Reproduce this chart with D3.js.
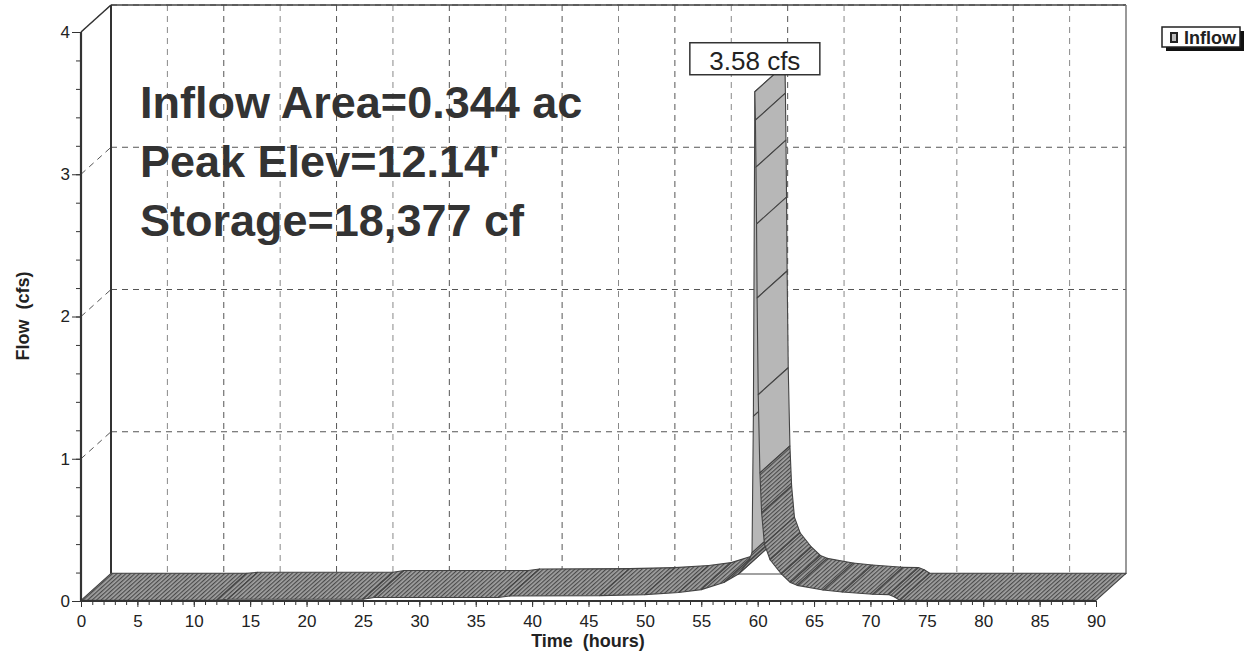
<!DOCTYPE html>
<html>
<head>
<meta charset="utf-8">
<script src="https://cdn.jsdelivr.net/npm/d3@7"></script>
<style>
  body { margin: 0; background: #fff; }
  svg { font-family: "Liberation Sans", Arial, sans-serif; }
</style>
</head>
<body>
<svg id="chart" width="1254" height="655"></svg>
<script>
// inflow hydrograph (hours, cfs)
const hours = [0, 12, 13, 25, 26, 37, 38, 46, 50, 53, 55, 57, 58.3, 59.2, 59.5, 59.62, 59.75,
  59.8, 59.85, 59.9, 59.95, 60.05, 60.2, 60.35, 60.6, 61.1, 62.1, 62.9, 63.5, 65.8, 67.5,
  70.2, 71.6, 72.1, 72.6, 90];
const inflow = [0.005, 0.005, 0.012, 0.012, 0.025, 0.025, 0.035, 0.038, 0.045, 0.06, 0.08, 0.13,
  0.19, 0.28, 0.34, 1.3, 3.58, 3.38, 3.05, 2.65, 2.13, 1.45, 0.9, 0.62, 0.4, 0.29, 0.19, 0.13,
  0.11, 0.077, 0.063, 0.047, 0.045, 0.03, 0.005, 0.005];

const xTicks = d3.range(0, 91, 5);
const yTicks = [0, 1, 2, 3, 4];
const infoLines = ["Inflow Area=0.344 ac", "Peak Elev=12.14'", "Storage=18,377 cf"];
const peakLabel = "3.58 cfs";
const legendLabel = "Inflow";

const svg = d3.select("#chart");
const dx = 30, dy = -27;     // 3d depth offset
const spikeCut = 1.0;        // above this the ribbon is drawn light, without dense hatch

const x = d3.scaleLinear().domain([0, 90]).range([81, 1096]);
const y = d3.scaleLinear().domain([0, 4]).range([601, 32]);

const defs = svg.append("defs");
const hatch = defs.append("pattern")
  .attr("id", "hatch")
  .attr("patternUnits", "userSpaceOnUse")
  .attr("width", 3).attr("height", 10)
  .attr("patternTransform", "rotate(48)");
hatch.append("rect").attr("width", 3).attr("height", 10).attr("fill", "#a2a2a2");
hatch.append("line").attr("x1", 0.6).attr("y1", 0).attr("x2", 0.6).attr("y2", 10)
  .attr("stroke", "#4a4a4a").attr("stroke-width", 1.2);

// back wall
const bx0 = x(0) + dx, bx1 = x(90) + dx, by0 = y(0) + dy, by1 = y(4) + dy;
svg.append("rect")
  .attr("x", bx0).attr("y", by1)
  .attr("width", bx1 - bx0).attr("height", by0 - by1)
  .attr("fill", "#fff");

// grid
const grid = svg.append("g")
  .attr("stroke", "#555")
  .attr("stroke-width", 1)
  .attr("stroke-dasharray", "6,5")
  .attr("fill", "none");

grid.selectAll(".hg").data(yTicks.slice(1)).join("line")
  .attr("x1", bx0).attr("x2", bx1)
  .attr("y1", d => y(d) + dy).attr("y2", d => y(d) + dy);

grid.selectAll(".dg").data(yTicks.slice(1)).join("line")
  .attr("x1", x(0)).attr("y1", d => y(d))
  .attr("x2", x(0) + dx).attr("y2", d => y(d) + dy);

grid.selectAll(".vg").data(xTicks.slice(1, -1)).join("line")
  .attr("x1", d => x(d) + dx).attr("x2", d => x(d) + dx)
  .attr("y1", by1).attr("y2", by0)
  .attr("stroke", d => d % 10 === 0 ? "#555" : "#888");

// frame of back wall
svg.append("line").attr("x1", bx0).attr("y1", by0).attr("x2", bx1).attr("y2", by0)
  .attr("stroke", "#444").attr("stroke-width", 1.2);
svg.append("line").attr("x1", bx0).attr("y1", by1).attr("x2", bx1).attr("y2", by1)
  .attr("stroke", "#444").attr("stroke-width", 1.5);
svg.append("line").attr("x1", bx1).attr("y1", by1).attr("x2", bx1).attr("y2", by0)
  .attr("stroke", "#777").attr("stroke-width", 1.5);
svg.append("line").attr("x1", bx0).attr("y1", by1).attr("x2", bx0).attr("y2", by0)
  .attr("stroke", "#333").attr("stroke-width", 2);
svg.append("line").attr("x1", x(0)).attr("y1", y(4)).attr("x2", bx0).attr("y2", by1)
  .attr("stroke", "#333").attr("stroke-width", 1.5);

// 3d ribbon of the hydrograph
const pts = hours.map((h, i) => ({ h: h, v: inflow[i] }));
svg.append("g").selectAll("path")
  .data(d3.pairs(pts))
  .join("path")
  .attr("d", ([a, b]) => {
    const ax = x(a.h), ay = y(a.v), bx = x(b.h), by = y(b.v);
    return `M${ax},${ay}L${bx},${by}L${bx + dx},${by + dy}L${ax + dx},${ay + dy}Z`;
  })
  .attr("fill", ([a, b]) => Math.max(a.v, b.v) > spikeCut ? "#b7b7b7" : "url(#hatch)")
  .attr("stroke", "#444")
  .attr("stroke-width", 1.1)
  .attr("stroke-linejoin", "round");

// axes
const tickFont = g => g.selectAll("text")
  .attr("font-size", 17).attr("fill", "#222")
  .attr("font-family", "'Liberation Sans', Arial, sans-serif");

svg.append("g").attr("transform", `translate(${x(0)},0)`)
  .call(d3.axisLeft(y).tickValues(d3.range(0, 4.001, 0.2)).tickSize(5).tickFormat(""))
  .call(g => g.select(".domain").remove())
  .call(g => g.selectAll("line").attr("stroke", "#333"));
svg.append("g").attr("transform", `translate(${x(0)},0)`)
  .call(d3.axisLeft(y).tickValues(yTicks).tickSize(9).tickPadding(2).tickFormat(d3.format("d")))
  .call(g => g.select(".domain").remove())
  .call(g => g.selectAll("line").attr("stroke", "#333"))
  .call(tickFont);

svg.append("g").attr("transform", `translate(0,${y(0)})`)
  .call(d3.axisBottom(x).tickValues(d3.range(0, 91, 1)).tickSize(4).tickFormat(""))
  .call(g => g.select(".domain").remove())
  .call(g => g.selectAll("line").attr("stroke", "#333"));
svg.append("g").attr("transform", `translate(0,${y(0)})`)
  .call(d3.axisBottom(x).tickValues(xTicks).tickSize(6).tickPadding(8).tickFormat(d3.format("d")))
  .call(g => g.select(".domain").remove())
  .call(g => g.selectAll("line").attr("stroke", "#333"))
  .call(tickFont);

svg.append("line").attr("x1", x(0)).attr("y1", y(0)).attr("x2", x(0)).attr("y2", y(4))
  .attr("stroke", "#333").attr("stroke-width", 2.2);
svg.append("line").attr("x1", x(0)).attr("y1", y(0)).attr("x2", x(90)).attr("y2", y(0))
  .attr("stroke", "#333").attr("stroke-width", 2.2);

// axis titles
svg.append("text")
  .attr("x", 588).attr("y", 647)
  .attr("text-anchor", "middle")
  .attr("font-size", 18).attr("font-weight", "bold").attr("fill", "#222")
  .style("white-space", "pre")
  .text("Time  (hours)");
svg.append("text")
  .attr("transform", "translate(29,316) rotate(-90)")
  .attr("text-anchor", "middle")
  .attr("font-size", 18).attr("font-weight", "bold").attr("fill", "#222")
  .style("white-space", "pre")
  .text("Flow  (cfs)");

// info text
svg.append("g").selectAll("text")
  .data(infoLines)
  .join("text")
  .attr("x", 140)
  .attr("y", (d, i) => 118 + i * 59)
  .attr("font-size", 45).attr("font-weight", "bold").attr("fill", "#333")
  .text(d => d);

// peak label
const iPeak = d3.maxIndex(inflow);
const px = x(hours[iPeak]), py = y(inflow[iPeak]);
svg.append("rect")
  .attr("x", px - 65).attr("y", py - 49)
  .attr("width", 130).attr("height", 32)
  .attr("fill", "#fff").attr("stroke", "#333").attr("stroke-width", 1.5);
svg.append("text")
  .attr("x", px).attr("y", py - 22)
  .attr("text-anchor", "middle")
  .attr("font-size", 26).attr("fill", "#222")
  .text(peakLabel);

// legend
const lg = svg.append("g").attr("transform", "translate(1162,27)");
lg.append("rect").attr("x", 4).attr("y", 4).attr("width", 78).attr("height", 20).attr("fill", "#111");
lg.append("rect").attr("width", 78).attr("height", 20)
  .attr("fill", "#fff").attr("stroke", "#222").attr("stroke-width", 1.5);
lg.append("rect").attr("x", 8).attr("y", 5).attr("width", 8).attr("height", 11).attr("fill", "#222");
lg.append("rect").attr("x", 10).attr("y", 7).attr("width", 4).attr("height", 7).attr("fill", "#bbb");
lg.append("text").attr("x", 22).attr("y", 17)
  .attr("font-size", 18).attr("font-weight", "bold").attr("fill", "#222")
  .text(legendLabel);
</script>
</body>
</html>
